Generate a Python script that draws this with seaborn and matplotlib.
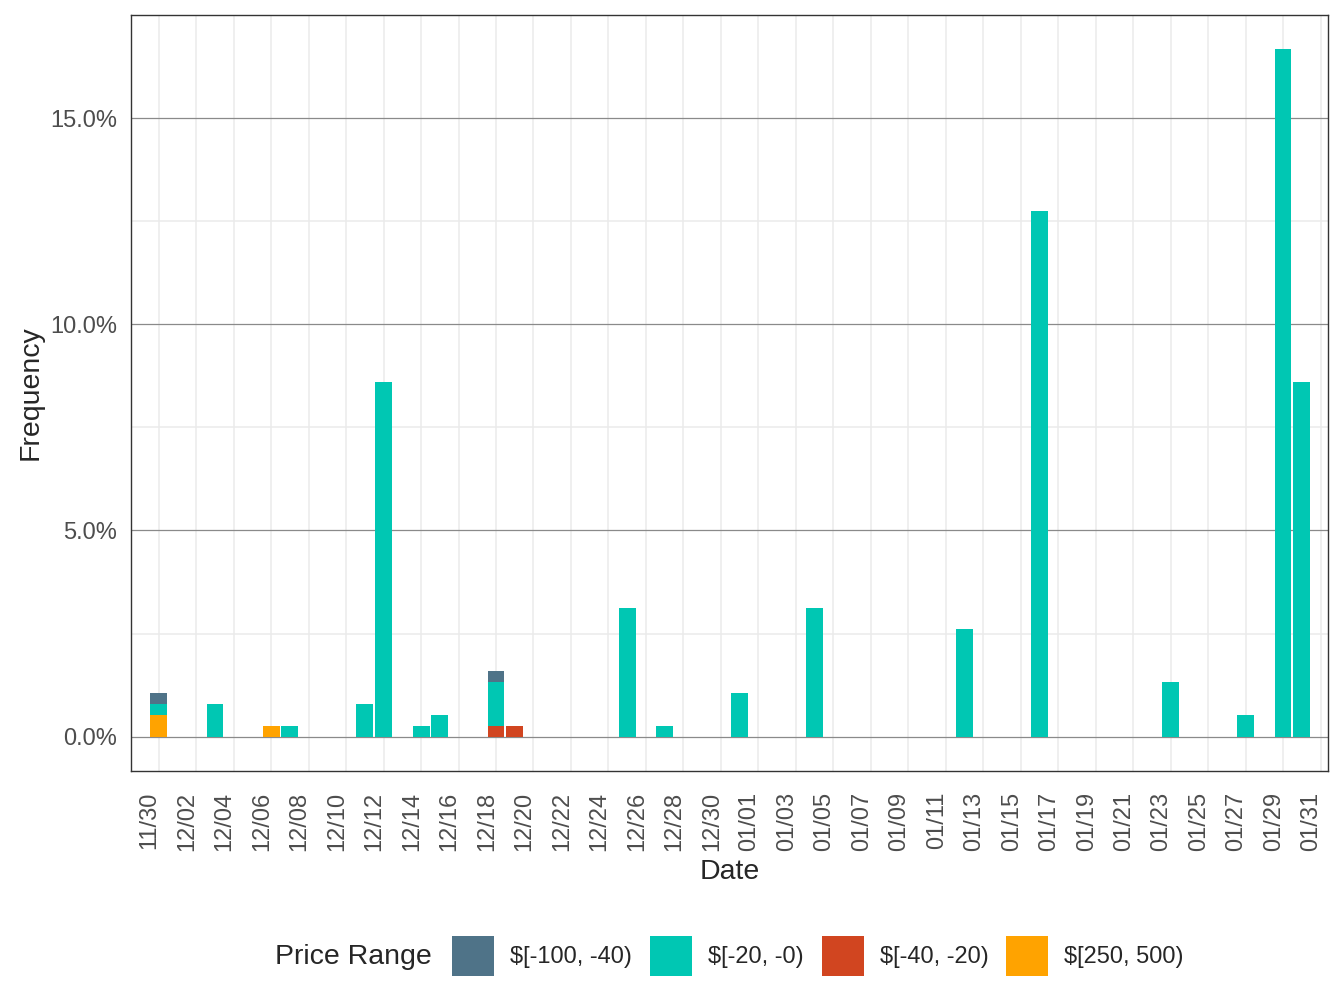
import pandas as pd
import seaborn as sns
import matplotlib.pyplot as plt
import matplotlib.transforms as mtransforms
from matplotlib.patches import Patch
from matplotlib.ticker import PercentFormatter, MultipleLocator

# data (percent of all records)
start = pd.Timestamp('2020-11-30')
end = pd.Timestamp('2021-01-31')
ranges = ['$[-100, -40)', '$[-20, -0)', '$[-40, -20)', '$[250, 500)']
colors = ['#4F7388', '#00C7B3', '#D14520', '#FFA300']

dates = ['2020-12-01', '2020-12-01', '2020-12-01', '2020-12-04', '2020-12-07',
         '2020-12-08', '2020-12-12', '2020-12-13', '2020-12-15', '2020-12-16',
         '2020-12-19', '2020-12-19', '2020-12-19', '2020-12-20', '2020-12-26',
         '2020-12-28', '2021-01-01', '2021-01-05', '2021-01-13', '2021-01-17',
         '2021-01-24', '2021-01-28', '2021-01-30', '2021-01-31']
price_range = ['$[250, 500)', '$[-20, -0)', '$[-100, -40)', '$[-20, -0)', '$[250, 500)',
               '$[-20, -0)', '$[-20, -0)', '$[-20, -0)', '$[-20, -0)', '$[-20, -0)',
               '$[-40, -20)', '$[-20, -0)', '$[-100, -40)', '$[-40, -20)', '$[-20, -0)',
               '$[-20, -0)', '$[-20, -0)', '$[-20, -0)', '$[-20, -0)', '$[-20, -0)',
               '$[-20, -0)', '$[-20, -0)', '$[-20, -0)', '$[-20, -0)']
freq = [0.53, 0.265, 0.265, 0.79, 0.265,
        0.265, 0.79, 8.59, 0.265, 0.53,
        0.265, 1.06, 0.265, 0.265, 3.12,
        0.265, 1.06, 3.12, 2.61, 12.75,
        1.32, 0.53, 16.67, 8.59]

df = pd.DataFrame({'date': pd.to_datetime(dates), 'range': price_range, 'freq': freq})
df['day'] = (df['date'] - start).dt.days

sns.set_style('white')
plt.rcParams['font.family'] = ['Liberation Sans', 'DejaVu Sans']

fig = plt.figure(figsize=(13.44, 10.08), dpi=100)
ax = fig.add_axes([131 / 1344, 1 - 771 / 1008, (1328 - 131) / 1344, (771 - 15) / 1008])

sns.histplot(data=df, x='day', weights='freq', hue='range', hue_order=ranges,
             palette=colors, multiple='stack', discrete=True, shrink=0.9,
             alpha=1, linewidth=0, legend=False, ax=ax)

# axes / grid in the style of theme_bw
n_days = (end - start).days
ax.set_xlim(-0.48, 63.4)
ax.set_ylim(-0.833, 17.5)
tick_days = list(range(0, n_days + 1, 2))
ax.set_xticks(tick_days)
ax.set_xticklabels([(start + pd.Timedelta(days=d)).strftime('%m/%d') for d in tick_days],
                   rotation=90)
ax.set_xticks(list(range(1, n_days + 2, 2)), minor=True)
ax.yaxis.set_major_locator(MultipleLocator(5))
ax.yaxis.set_minor_locator(MultipleLocator(2.5))
ax.yaxis.set_major_formatter(PercentFormatter(decimals=1))

ax.set_axisbelow(True)
ax.grid(False)
ax.xaxis.grid(True, which='minor', color='#EBEBEB', lw=1.1)
ax.yaxis.grid(True, which='minor', color='#EBEBEB', lw=1.1)
ax.yaxis.grid(True, which='major', color='#8A8A8A', lw=0.9)

ax.tick_params(which='major', length=5.5, width=1.6, color='#333333',
               labelsize=17, labelcolor='#4D4D4D')
ax.tick_params(axis='x', pad=9.5)
ax.tick_params(axis='y', pad=4.5)
ax.tick_params(which='minor', length=0)
shift = mtransforms.ScaledTranslation(7 / 72, 0, fig.dpi_scale_trans)
for lab in ax.get_xticklabels():
    lab.set_transform(lab.get_transform() + shift)
for s in ax.spines.values():
    s.set_color('#333333')
    s.set_linewidth(1.0)

ax.set_xlabel('Date', fontsize=20.5, labelpad=6)
ax.set_ylabel('Frequency', fontsize=20.5, labelpad=5)

# legend at the bottom, title on the left
fig.text(275 / 1344, 1 - 957 / 1008, 'Price Range', fontsize=20.5, ha='left', va='center')
handles = [Patch(facecolor=c, edgecolor='none') for c in colors]
fig.legend(handles, ranges, loc='center left', bbox_to_anchor=(452 / 1344, 1 - 956 / 1008),
           ncol=4, frameon=False, fontsize=17, handlelength=1.78, handleheight=2.27,
           handletextpad=0.68, columnspacing=0.76, borderpad=0, borderaxespad=0)

fig.savefig('out.png', dpi=100)
